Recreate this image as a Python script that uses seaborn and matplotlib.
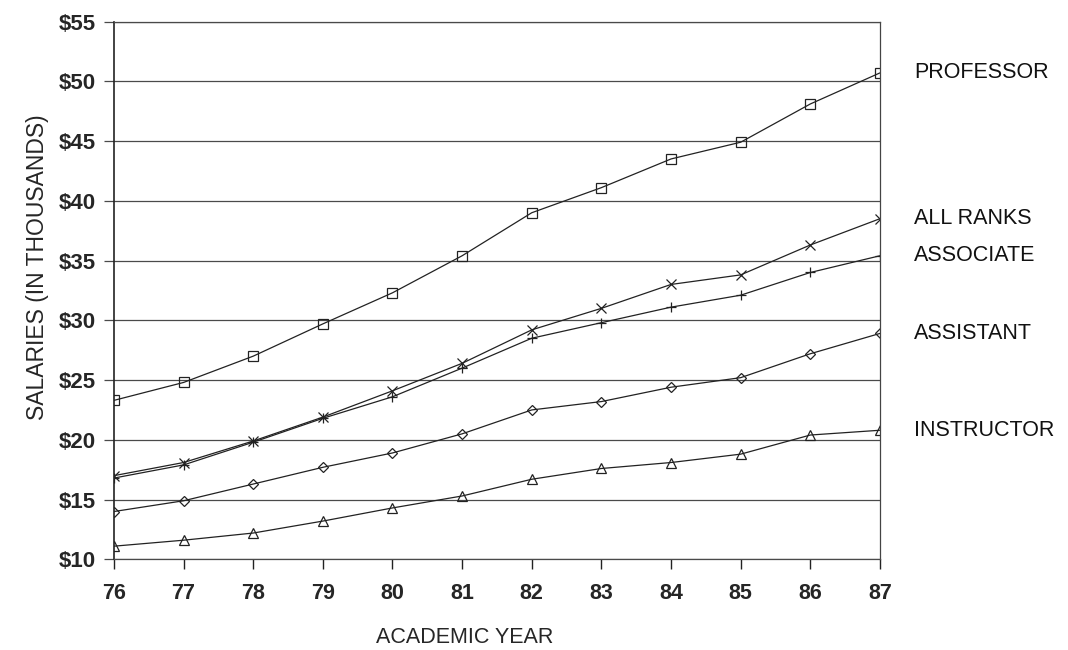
import numpy as np
import pandas as pd
import matplotlib
matplotlib.use("Agg")
import matplotlib.pyplot as plt
import seaborn as sns

# academic years 1976-1987, salaries in thousands of dollars
years = [76, 77, 78, 79, 80, 81, 82, 83, 84, 85, 86, 87]
professor = [23.3, 24.8, 27.0, 29.7, 32.3, 35.4, 39.0, 41.1, 43.5, 44.9, 48.1, 50.7]
all_ranks = [17.0, 18.1, 19.9, 21.9, 24.1, 26.4, 29.2, 31.0, 33.0, 33.8, 36.3, 38.5]
associate = [16.8, 17.9, 19.8, 21.8, 23.6, 26.0, 28.5, 29.8, 31.1, 32.1, 34.0, 35.4]
assistant = [14.0, 14.9, 16.3, 17.7, 18.9, 20.5, 22.5, 23.2, 24.4, 25.2, 27.2, 28.9]
instructor = [11.1, 11.6, 12.2, 13.2, 14.3, 15.3, 16.7, 17.6, 18.1, 18.8, 20.4, 20.8]

rank_names = ["PROFESSOR", "ALL RANKS", "ASSOCIATE", "ASSISTANT", "INSTRUCTOR"]
rank_values = [professor, all_ranks, associate, assistant, instructor]
rank_markers = ["s", "x", "+", "D", "^"]
y_ticks = [10, 15, 20, 25, 30, 35, 40, 45, 50, 55]

sns.set_style("white")
plt.rcParams["font.family"] = ["Liberation Sans", "DejaVu Sans"]

fig = plt.figure(figsize=(10.68, 6.5), dpi=100)
ax = fig.add_axes([0.1067, 0.1395, 0.7172, 0.8274])

ink = "#222222"
grid_col = "#4a4a4a"
for name, vals, mk in zip(rank_names, rank_values, rank_markers):
    df = pd.DataFrame({"year": years, "salary": vals})
    msize = 5.5 if mk == "D" else 7
    sns.lineplot(data=df, x="year", y="salary", ax=ax, color=ink, linewidth=0.9,
                 marker=mk, markersize=msize, markerfacecolor="none",
                 markeredgecolor=ink, markeredgewidth=0.9)
    ax.annotate(name, xy=(years[-1], vals[-1]), xytext=(34, 0),
                textcoords="offset pixels", ha="left", va="center",
                fontsize=15.5, color="#111111", annotation_clip=False)

ax.set_xlim(76, 87)
ax.set_ylim(10, 55)
ax.set_xticks(years)
ax.set_xticklabels([str(y) for y in years], fontsize=15.5, fontweight="bold")
ax.set_yticks(y_ticks)
ax.set_yticklabels(["$%d" % v for v in y_ticks], fontsize=16, fontweight="bold")

ax.yaxis.grid(True, color=grid_col, linewidth=0.9)
ax.xaxis.grid(False)
for side in ["top", "bottom"]:
    ax.spines[side].set_color(grid_col)
    ax.spines[side].set_linewidth(0.9)
ax.spines["left"].set_color(ink)
ax.spines["left"].set_linewidth(1.2)
ax.spines["right"].set_color("#444444")
ax.spines["right"].set_linewidth(0.9)

ax.tick_params(axis="y", direction="out", length=7, width=0.9, color=grid_col,
               pad=6, left=True)
ax.tick_params(axis="x", direction="out", length=7, width=1.0, color=ink,
               pad=10, bottom=True)

ax.set_xlabel("ACADEMIC YEAR", fontsize=15.5)
ax.xaxis.set_label_coords(0.458, -0.125)
ax.set_ylabel("SALARIES (IN THOUSANDS)", fontsize=16.5)
ax.yaxis.set_label_coords(-0.085, 0.543)

fig.savefig("out.png", dpi=100)
